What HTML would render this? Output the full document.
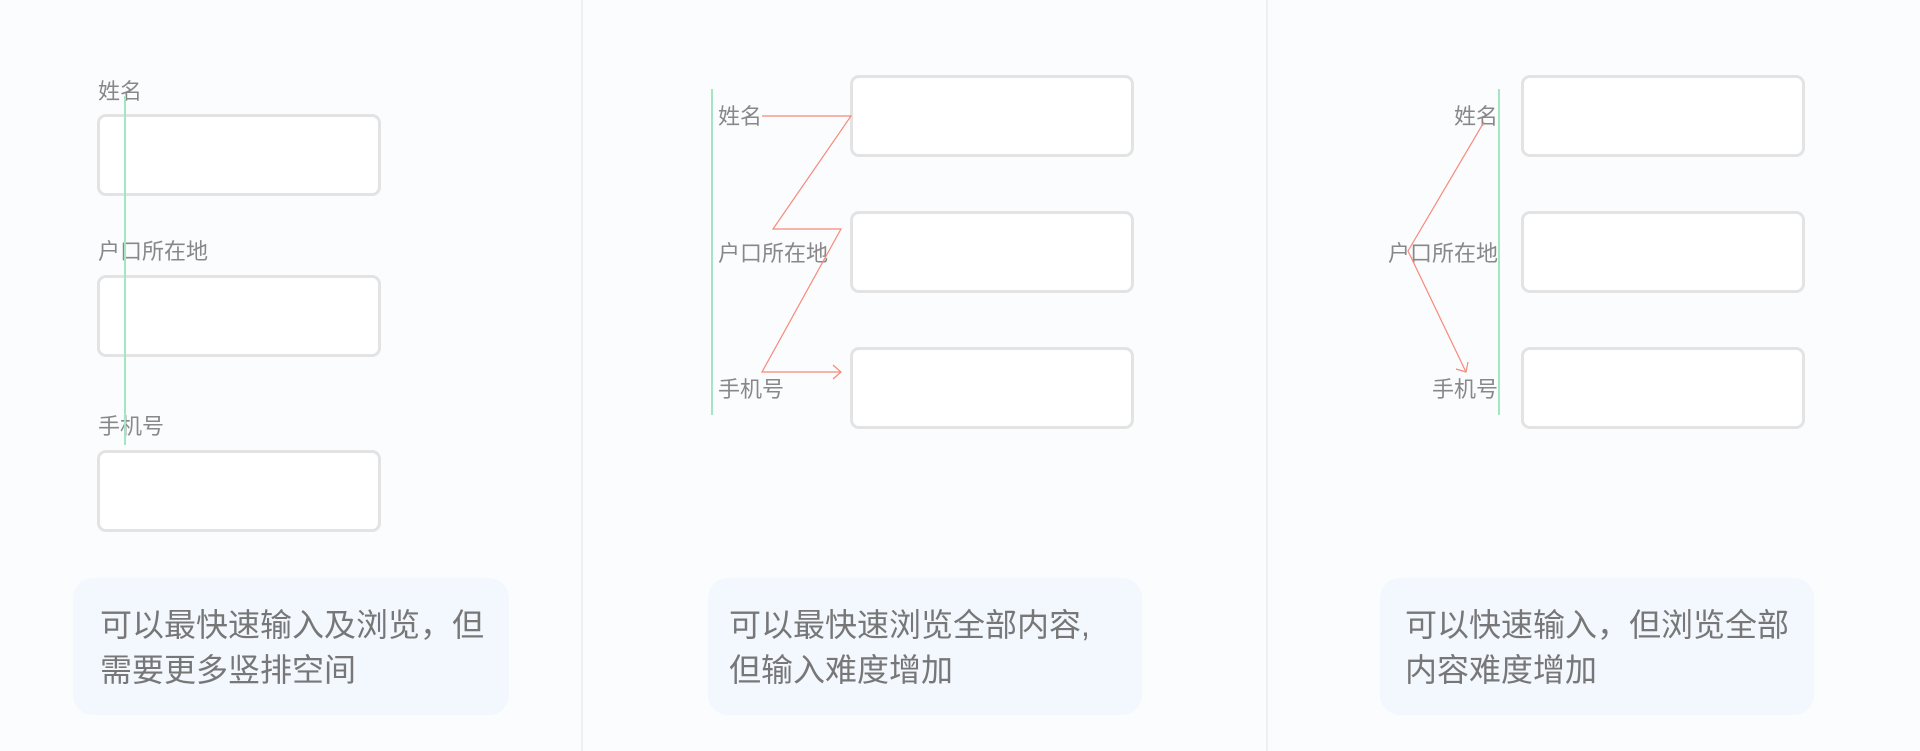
<!DOCTYPE html>
<html><head><meta charset="utf-8"><style>
body{margin:0;width:1920px;height:751px;background:#fbfcfe;position:relative;overflow:hidden;font-family:"Liberation Sans","Noto Sans CJK SC",sans-serif;}
.d{position:absolute;top:0;width:2px;height:751px;background:#eeeff1}
.b{position:absolute;box-sizing:border-box;border:3px solid #e3e3e3;border-radius:9px;background:#fff}
.l{position:absolute;font-size:22px;color:#888;line-height:26px;white-space:nowrap}
.c{position:absolute;top:578px;height:137px;background:#f3f7fe;border-radius:20px;box-sizing:border-box;font-size:32px;line-height:45px;color:#777;padding-top:25px}
</style></head><body>
<div class="d" style="left:581px"></div>
<div class="d" style="left:1266px"></div>

<div class="l" style="left:98px;top:79px">姓名</div>
<div class="b" style="left:97px;top:114px;width:284px;height:82px"></div>
<div class="l" style="left:98px;top:239px">户口所在地</div>
<div class="b" style="left:97px;top:275px;width:284px;height:82px"></div>
<div class="l" style="left:98px;top:414px">手机号</div>
<div class="b" style="left:97px;top:450px;width:284px;height:82px"></div>
<div class="c" style="left:73px;width:436px;padding-left:27px">可以最快速输入及浏览，但<br>需要更多竖排空间</div>

<div class="b" style="left:850px;top:75px;width:284px;height:82px"></div>
<div class="b" style="left:850px;top:211px;width:284px;height:82px"></div>
<div class="b" style="left:850px;top:347px;width:284px;height:82px"></div>
<div class="l" style="left:718px;top:104px">姓名</div>
<div class="l" style="left:718px;top:241px">户口所在地</div>
<div class="l" style="left:718px;top:377px">手机号</div>
<div class="c" style="left:708px;width:434px;padding-left:21px">可以最快速浏览全部内容,<br>但输入难度增加</div>

<div class="b" style="left:1521px;top:75px;width:284px;height:82px"></div>
<div class="b" style="left:1521px;top:211px;width:284px;height:82px"></div>
<div class="b" style="left:1521px;top:347px;width:284px;height:82px"></div>
<div class="l" style="right:422px;top:104px">姓名</div>
<div class="l" style="right:422px;top:241px">户口所在地</div>
<div class="l" style="right:422px;top:377px">手机号</div>
<div class="c" style="left:1380px;width:434px;padding-left:25px">可以快速输入，但浏览全部<br>内容难度增加</div>

<svg width="1920" height="751" style="position:absolute;left:0;top:0" fill="none">
<line x1="125" y1="96" x2="125" y2="445" stroke="#a3e6c1" stroke-width="2"/>
<line x1="712" y1="89" x2="712" y2="415" stroke="#a3e6c1" stroke-width="2"/>
<line x1="1499" y1="89" x2="1499" y2="415" stroke="#a3e6c1" stroke-width="2"/>
<polyline points="762,116 851,116 773,229 841,229 762,372 841,372" stroke="#f7897a" stroke-width="1.2"/>
<polyline points="833,365 841,372 833,379" stroke="#f7897a" stroke-width="1.2"/>
<polyline points="1484,122 1408,251 1466,372" stroke="#f7897a" stroke-width="1.2"/>
<polyline points="1456,369 1466,372 1468,362" stroke="#f7897a" stroke-width="1.2"/>
</svg>
</body></html>
